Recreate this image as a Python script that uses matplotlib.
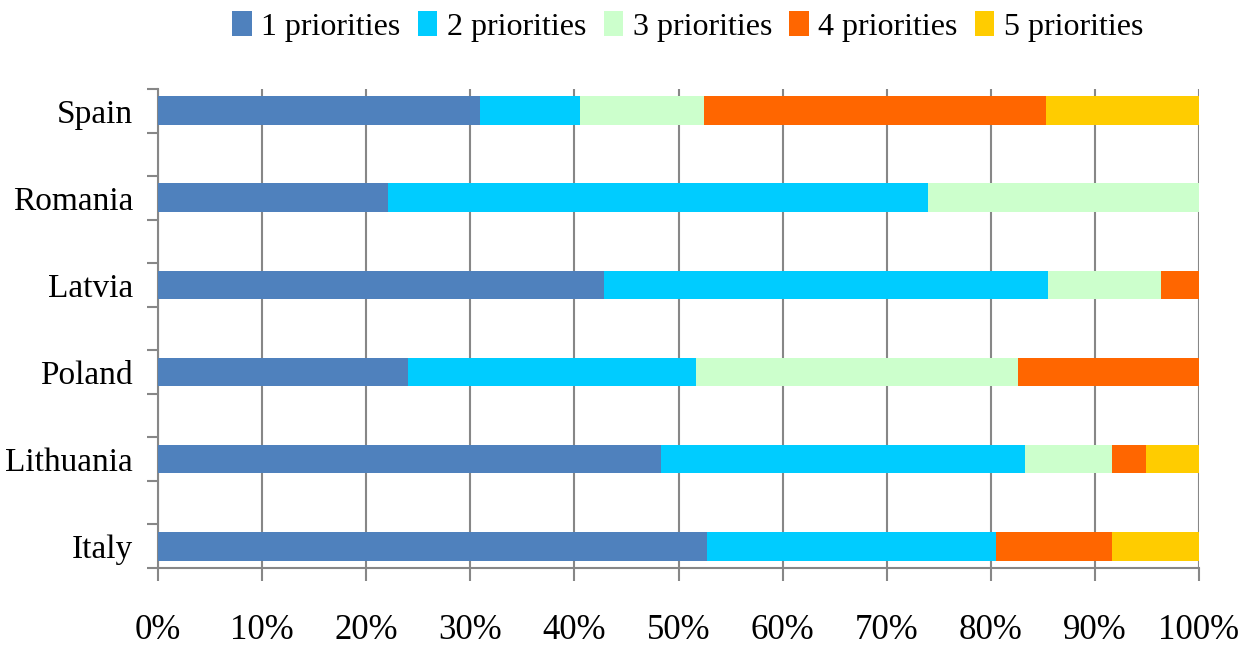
import numpy as np
import matplotlib
matplotlib.use('Agg')
import matplotlib.pyplot as plt
from matplotlib.ticker import FixedLocator, FuncFormatter

plt.rcParams['font.family'] = ['Liberation Serif', 'DejaVu Serif']

# bottom to top, as drawn
countries = ['Italy', 'Lithuania', 'Poland', 'Latvia', 'Romania', 'Spain']
series_names = ['1 priorities', '2 priorities', '3 priorities', '4 priorities', '5 priorities']
p1 = [52.75, 48.3, 24.0, 42.85, 22.1, 30.9]
p2 = [27.75, 35.0, 27.7, 42.65, 51.9, 9.65]
p3 = [0.0, 8.3, 30.9, 10.85, 26.0, 11.85]
p4 = [11.1, 3.3, 17.4, 3.65, 0.0, 32.9]
p5 = [8.4, 5.1, 0.0, 0.0, 0.0, 14.7]
colors = ['#4F81BD', '#00CCFF', '#CCFFCC', '#FF6600', '#FFCC00']

grey = '#878787'

fig = plt.figure(figsize=(12.41, 6.45), dpi=100)
ax = fig.add_axes([0.1273, 0.1194, 0.8389, 0.7426])

ypos = np.arange(len(countries)) * 2
left = np.zeros(len(countries))
for vals, name, c in zip([p1, p2, p3, p4, p5], series_names, colors):
    vals = np.array(vals)
    ax.barh(ypos, vals, left=left, height=0.66, color=c, label=name, zorder=3)
    left += vals

ax.set_xlim(0, 100)
ax.set_ylim(-0.5, ypos[-1] + 0.5)
ax.set_xticks(np.arange(0, 101, 10))
ax.xaxis.set_major_formatter(FuncFormatter(lambda v, p: '%d%%' % v))
ax.set_yticks(ypos)
ax.set_yticklabels(countries)
ax.yaxis.set_minor_locator(FixedLocator(np.arange(-0.5, ypos[-1] + 1, 1.0)))

ax.grid(axis='x', color=grey, linewidth=1.5, zorder=0)
ax.set_axisbelow(True)
for s in ['top', 'right']:
    ax.spines[s].set_visible(False)
for s in ['left', 'bottom']:
    ax.spines[s].set_color(grey)
    ax.spines[s].set_linewidth(1.5)

ax.tick_params(axis='x', direction='out', length=9, width=1.5, color=grey,
               labelsize=25, pad=24)
ax.tick_params(axis='y', which='major', length=0, labelsize=24, pad=18)
ax.tick_params(axis='y', which='minor', direction='out', length=8, width=1.5,
               color=grey)

ax.legend(loc='upper center', bbox_to_anchor=(0.509, 1.19), ncol=5,
          frameon=False, fontsize=23, handlelength=0.6, handleheight=0.85,
          handletextpad=0.3, columnspacing=0.55, borderaxespad=0)

plt.savefig('out.png', dpi=100)
